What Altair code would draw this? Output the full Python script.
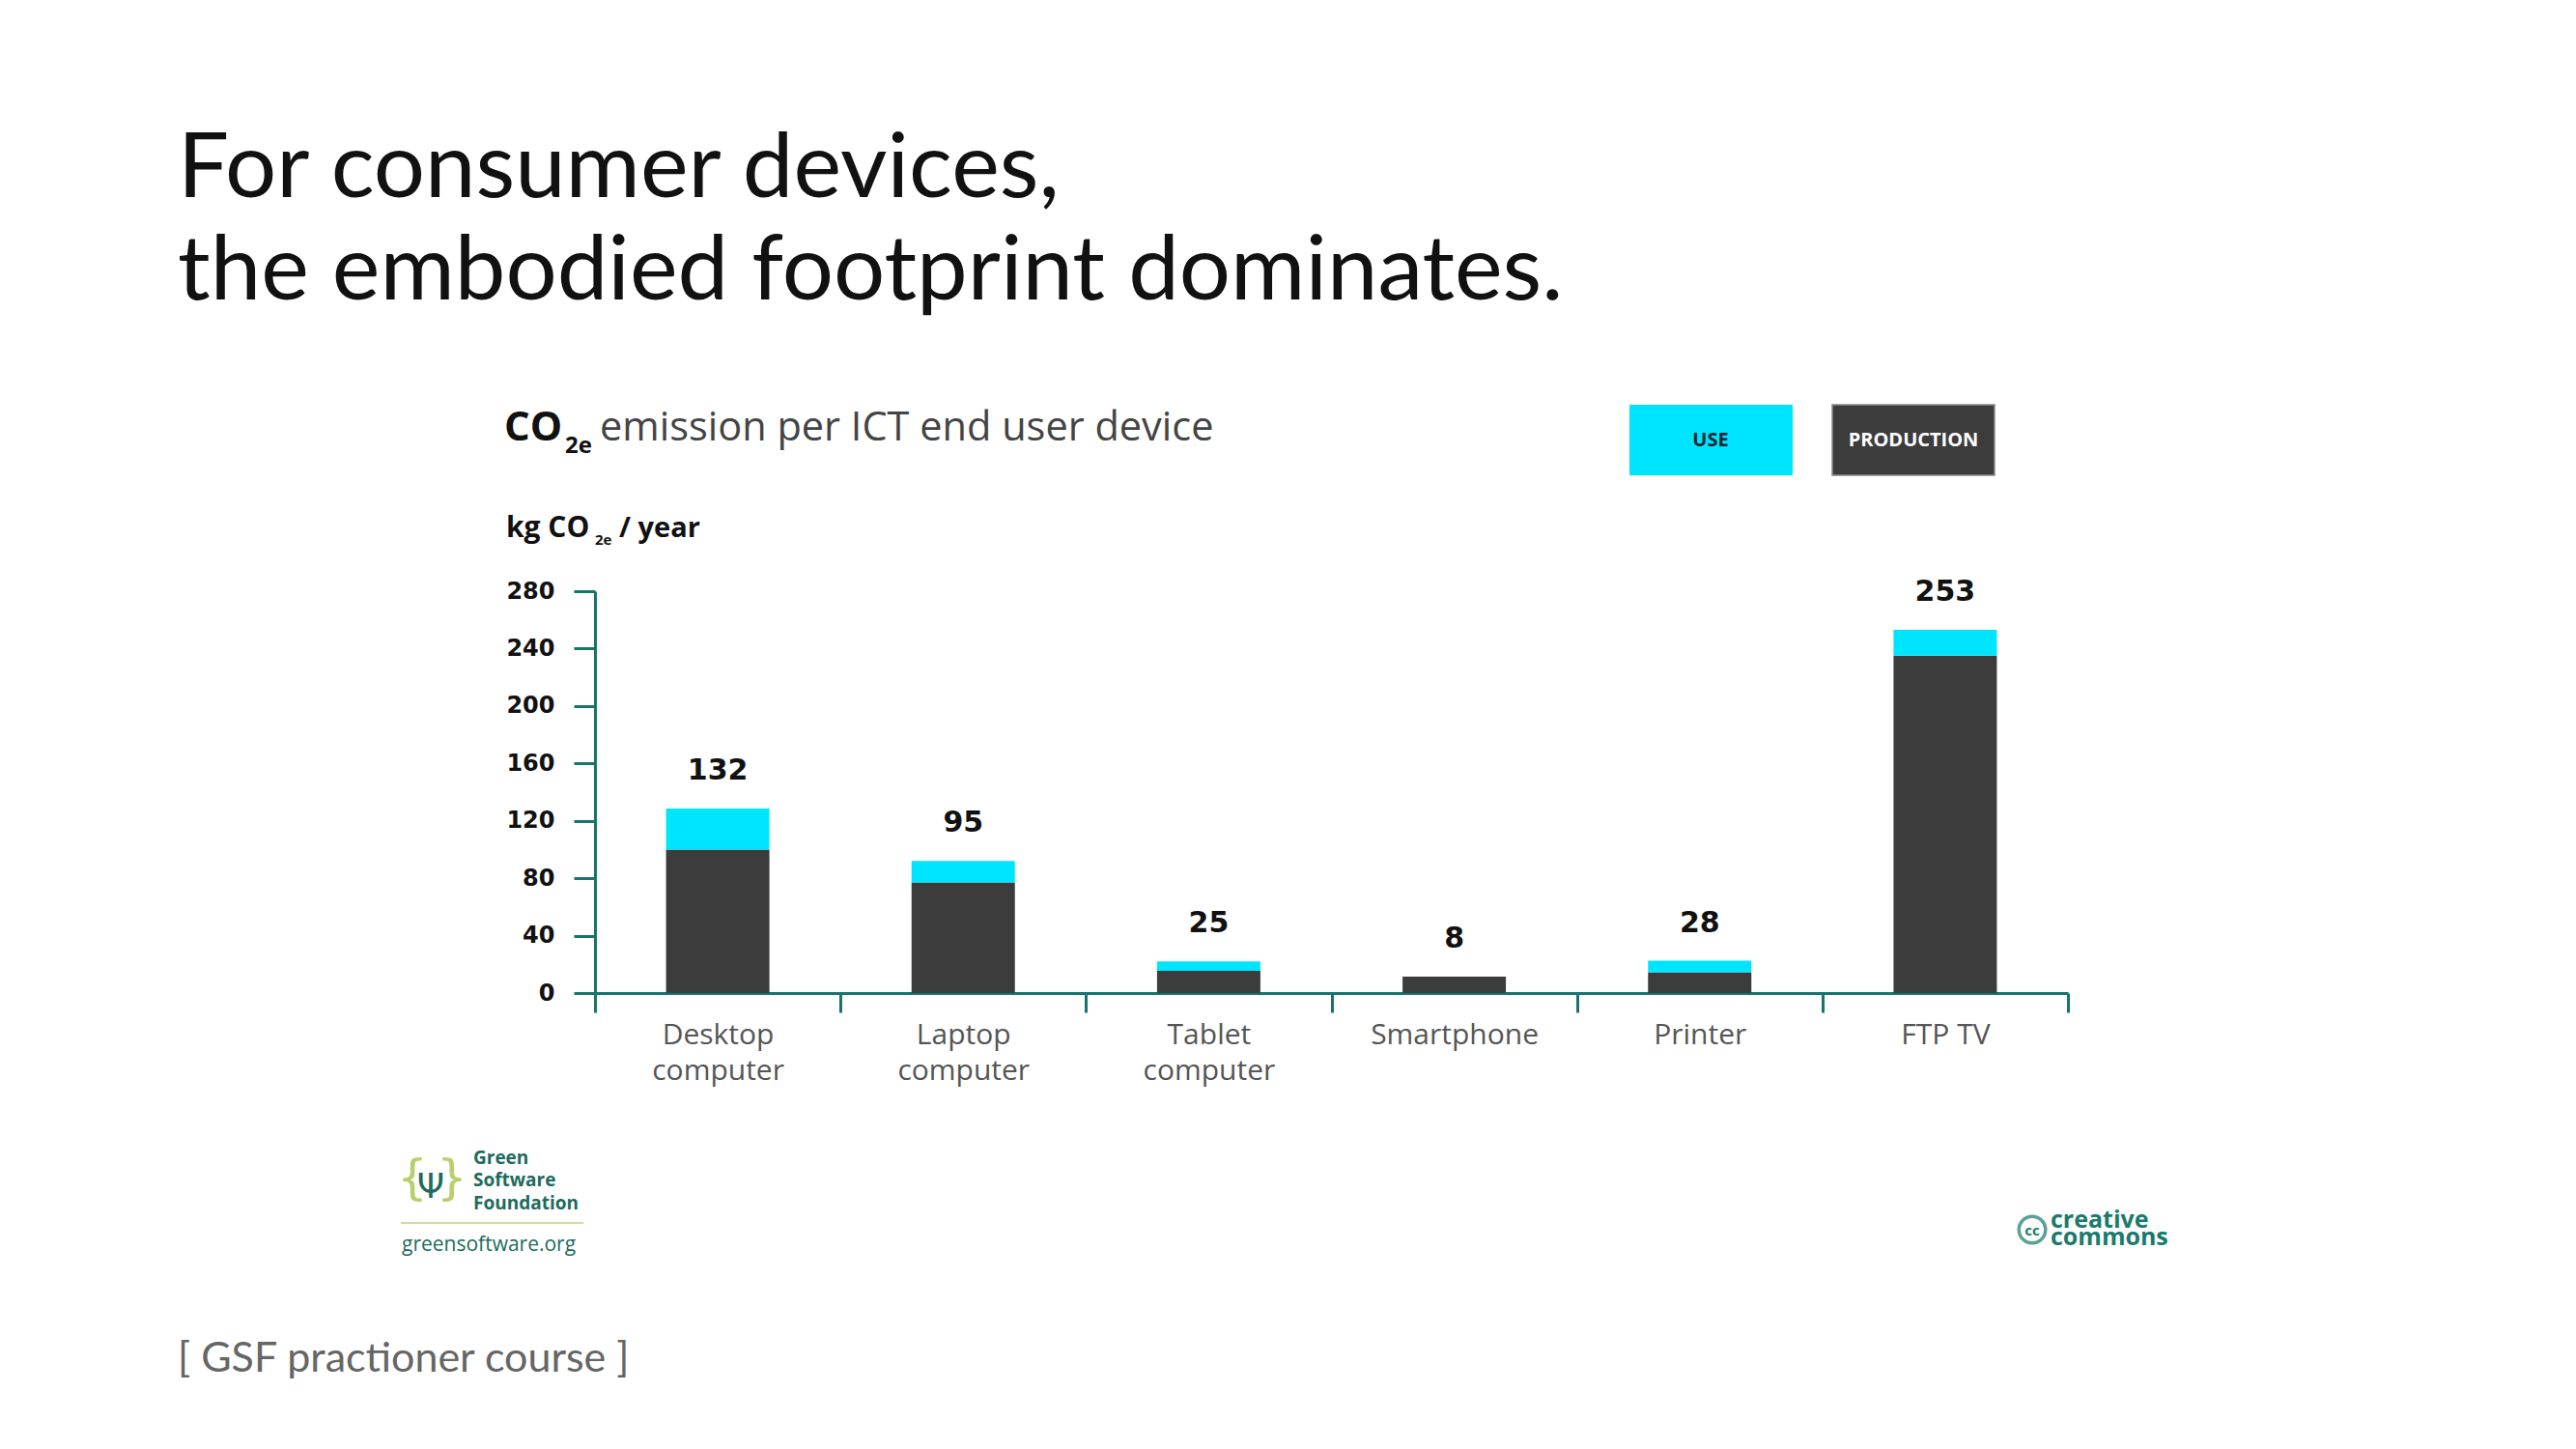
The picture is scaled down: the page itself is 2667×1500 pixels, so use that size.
import altair as alt
import pandas as pd

# ---------------- data ----------------
devices = ["Desktop computer", "Laptop computer", "Tablet computer", "Smartphone", "Printer", "FTP TV"]
production = [100, 77, 15.5, 11.5, 14.5, 235]
use = [28.5, 15, 6.5, 0, 8, 18]
totals = [132, 95, 25, 8, 28, 253]
y_ticks = [0, 40, 80, 120, 160, 200, 240, 280]
parts = ["PRODUCTION", "USE"]

TEAL = "#17756d"
CYAN = "#00e5ff"
DARK = "#3c3c3c"

rows = []
for d, p, u in zip(devices, production, use):
    rows.append({"device": d, "part": "PRODUCTION", "value": p, "ord": 0})
    rows.append({"device": d, "part": "USE", "value": u, "ord": 1})
df = pd.DataFrame(rows)
df_tot = pd.DataFrame({"device": devices, "label": [str(t) for t in totals],
                       "top": [p + u for p, u in zip(production, use)]})

# plot-area origin in page pixels
OX, OY = 616, 612
W, H = 1525, 416


def txt(text, px, py, size, color, font="Open Sans", weight="normal", align="left", baseline="alphabetic"):
    return alt.Chart(alt.Data(values=[{}])).mark_text(
        text=text, font=font, fontSize=size, fontWeight=weight, color=color,
        align=align, baseline=baseline
    ).encode(x=alt.value(px - OX), y=alt.value(py - OY))


def box(x1, y1, x2, y2, fill, stroke=None):
    kw = dict(color=fill)
    if stroke:
        kw.update(stroke=stroke, strokeWidth=1.5)
    return alt.Chart(alt.Data(values=[{}])).mark_rect(**kw).encode(
        x=alt.value(x1 - OX), x2=alt.value(x2 - OX), y=alt.value(y1 - OY), y2=alt.value(y2 - OY))


x_enc = alt.X(
    "device:N", sort=devices,
    scale=alt.Scale(paddingInner=0, paddingOuter=0),
    axis=alt.Axis(
        title=None, labelAngle=0, tickBand="extent", tickSize=20, tickWidth=3,
        tickColor=TEAL, domainColor=TEAL, domainWidth=3,
        labelFont="Open Sans", labelFontSize=30, labelColor="#555555",
        labelLineHeight=37, labelPadding=8,
        labelExpr="datum.label == 'FTP TV' ? datum.label : split(datum.label, ' ')",
    ),
)

y_axis = alt.Axis(
    values=y_ticks, title=None, grid=False, tickSize=22, tickWidth=3, tickColor=TEAL,
    domainColor=TEAL, domainWidth=3, labelFont="DejaVu Sans", labelFontWeight="bold",
    labelFontSize=24, labelColor="#111111", labelPadding=20,
)

bars = alt.Chart(df).mark_bar(size=107).encode(
    x=x_enc,
    y=alt.Y("value:Q", stack="zero", scale=alt.Scale(domain=[0, 280], nice=False), axis=y_axis),
    color=alt.Color("part:N", scale=alt.Scale(domain=parts, range=[DARK, CYAN]), legend=None),
    order=alt.Order("ord:Q"),
)

labels = alt.Chart(df_tot).mark_text(
    font="DejaVu Sans", fontWeight="bold", fontSize=30, color="#111111",
    baseline="alphabetic", dy=-30,
).encode(x=alt.X("device:N", sort=devices), y=alt.Y("top:Q"), text="label:N")

deco = [
    # slide title
    txt("For consumer devices,", 184, 204, 94, "#111111", font="Lato"),
    txt("the embodied footprint dominates.", 184, 310, 94, "#111111", font="Lato"),
    # chart title
    txt("CO", 522, 456, 42, "#111111", weight="bold"),
    txt("2e", 585, 469, 24, "#111111", weight="bold"),
    txt("emission per ICT end user device", 621, 456, 41.5, "#444444"),
    txt("kg CO", 524, 556, 30, "#111111", weight="bold"),
    txt("2e", 616, 564, 15, "#111111", weight="bold"),
    txt("/ year", 641, 556, 29, "#111111", weight="bold"),
    # legend
    box(1687, 419, 1856, 492, CYAN),
    box(1897, 419, 2065, 492, DARK, stroke="#8a8a8a"),
    txt("USE", 1771, 456, 20, "#0b2530", weight="bold", align="center", baseline="middle"),
    txt("PRODUCTION", 1981, 456, 20, "#ffffff", weight="bold", align="center", baseline="middle"),
    # GSF logo
    txt("{", 411, 1236, 50, "#b9cf6e", font="DejaVu Sans"),
    txt("}", 452, 1236, 50, "#b9cf6e", font="DejaVu Sans"),
    txt("Ψ", 446, 1240, 36, "#1d6b5c", font="DejaVu Sans", align="center"),
    txt("Green", 490, 1205, 19, "#1d6b5c", weight="bold"),
    txt("Software", 490, 1228, 19, "#1d6b5c", weight="bold"),
    txt("Foundation", 490, 1252, 19, "#1d6b5c", weight="bold"),
    box(415, 1265, 604, 1267, "#cfdca0"),
    txt("greensoftware.org", 416, 1295, 21, "#1d6b5c"),
    # CC logo
    alt.Chart(alt.Data(values=[{}])).mark_point(
        shape="circle", size=760, stroke="#1b7a6c", strokeWidth=3.5, filled=False
    ).encode(x=alt.value(2104 - OX), y=alt.value(1273 - OY)),
    txt("cc", 2104, 1274, 15, "#1b7a6c", weight="bold", align="center", baseline="middle"),
    txt("creative", 2123, 1271, 25, "#1b7a6c", weight="bold"),
    txt("commons", 2123, 1289, 25, "#1b7a6c", weight="bold"),
    # footer
    txt("[ GSF practioner course ]", 184, 1420, 43, "#666666", font="Lato"),
]

chart = alt.layer(bars, labels, *deco).properties(
    width=W, height=H,
    autosize=alt.AutoSizeParams(type="none"),
    padding={"left": OX - 8, "top": OY - 8, "right": 2667 - 16 - (OX - 8) - W, "bottom": 1500 - 16 - (OY - 8) - H},
    background="white",
).configure_view(stroke=None)

chart.save("out.html", embed_options={"renderer": "svg", "actions": False})
